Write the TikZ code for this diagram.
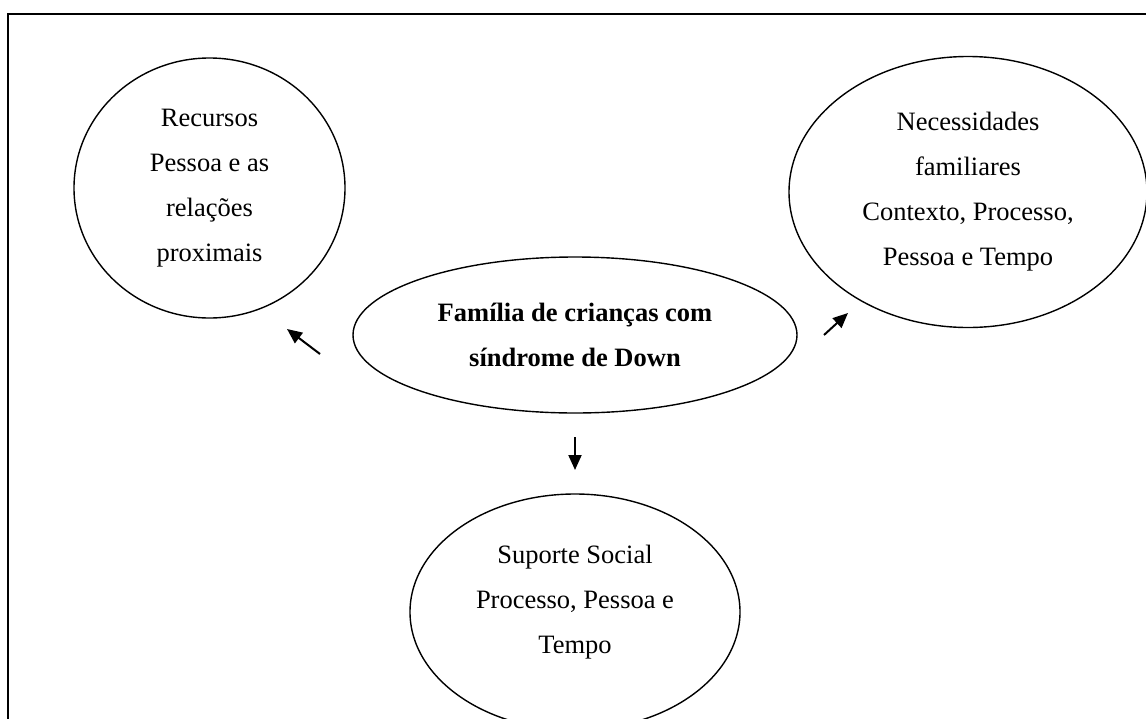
\documentclass[tikz,border=0pt]{standalone}
\usepackage{fontspec}
\setmainfont{Liberation Serif}
\usetikzlibrary{shapes.geometric, positioning, arrows.meta}

\tikzset{
  bolha/.style={draw, ellipse, line width=1.4pt, inner sep=0pt, align=center, font=\fontsize{26.5}{45}\selectfont},
  seta/.style={-{Triangle[length=15pt,width=13pt]}, line width=2pt},
}

\begin{document}
\begin{tikzpicture}[x=1pt, y=-1pt]
          % Page size; the frame runs off the right and bottom edges
          \useasboundingbox (0,0) rectangle (1146,718);
          \clip (0,0) rectangle (1146,718);
          \draw [line width=2.5pt] (8,14) rectangle (1170,760);

          % Central ellipse first, the other three placed from it
          \node (familia) [bolha, minimum width=444pt, minimum height=156pt, font=\bfseries\fontsize{26.5}{45}\selectfont] at (575,335) {Família de crianças com\\síndrome de Down};
          \node (recursos) [bolha, minimum width=271pt, minimum height=260pt, above left=147pt and 365.5pt of familia.center, anchor=center] {Recursos\\Pessoa e as\\relações\\proximais};
          \node (necessidades) [bolha, minimum width=358pt, minimum height=271pt, above right=143pt and 393pt of familia.center, anchor=center] {Necessidades\\familiares\\Contexto, Processo,\\Pessoa e Tempo};
          \node (suporte) [bolha, minimum width=330pt, minimum height=236pt, text depth=26pt, below=277pt of familia.center, anchor=center] {Suporte Social\\Processo, Pessoa e\\Tempo};

          % Short free arrows around the central ellipse
          \coordinate (de_recursos) at (320,354);
          \coordinate (para_recursos) at (287,329);
          \coordinate (de_necessidades) at (824,335);
          \coordinate (para_necessidades) at (848,313);
          \coordinate (de_suporte) at (575,437);
          \coordinate (para_suporte) at (575,470);

          \draw [seta] (de_recursos) -- (para_recursos);
          \draw [seta] (de_necessidades) -- (para_necessidades);
          \draw [seta] (de_suporte) -- (para_suporte);
\end{tikzpicture}
\end{document}
